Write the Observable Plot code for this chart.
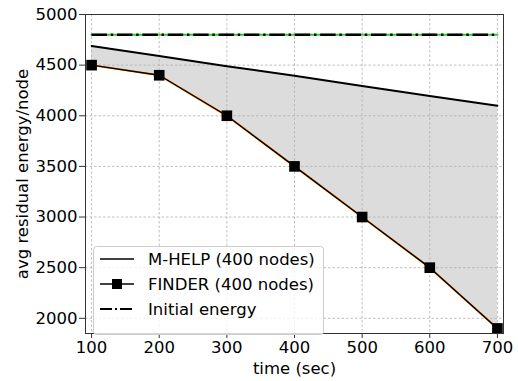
<!DOCTYPE html>
<html>
<head>
<meta charset="utf-8">
<script src="https://cdn.jsdelivr.net/npm/d3@7"></script>
<script src="https://cdn.jsdelivr.net/npm/@observablehq/plot@0.6"></script>
<style>
  html, body { margin: 0; padding: 0; background: #fff; }
  #wrap { position: relative; width: 518px; height: 381px; font-family: "DejaVu Sans", sans-serif; }
  #legend { position: absolute; left: 93px; top: 246px; }
</style>
</head>
<body>
<div id="wrap"></div>
<script>
const times = [100, 200, 300, 400, 500, 600, 700];
const mhelp = [4690, 4590, 4490, 4395, 4295, 4195, 4100];
const finder = [4500, 4400, 4000, 3500, 3000, 2500, 1900];
const initialEnergy = [4800, 4800, 4800, 4800, 4800, 4800, 4800];
const xTicks = [100, 200, 300, 400, 500, 600, 700];
const yTicks = [2000, 2500, 3000, 3500, 4000, 4500, 5000];
const seriesNames = ["M-HELP (400 nodes)", "FINDER (400 nodes)", "Initial energy"];
const xLabel = "time (sec)";
const yLabel = "avg residual energy/node";

const data = times.map((t, i) => ({t, mhelp: mhelp[i], finder: finder[i], init: initialEnergy[i]}));

const chart = Plot.plot({
  width: 518,
  height: 381,
  marginLeft: 85,
  marginRight: 15,
  marginTop: 14,
  marginBottom: 48,
  style: {fontFamily: "DejaVu Sans, sans-serif", fontSize: "16.5px", color: "#000", background: "#fff"},
  x: {domain: [91, 709]},
  y: {domain: [1850, 5000]},
  marks: [
    Plot.areaY(data, {x: "t", y1: "finder", y2: "mhelp", fill: "#dcdcdc"}),
    Plot.gridX(xTicks, {stroke: "#b0b0b0", strokeOpacity: 1, strokeWidth: 0.8, strokeDasharray: "2.5,2"}),
    Plot.gridY(yTicks, {stroke: "#b0b0b0", strokeOpacity: 1, strokeWidth: 0.8, strokeDasharray: "2.5,2"}),
    Plot.lineY(data, {x: "t", y: "mhelp", stroke: "#000", strokeWidth: 2}),
    Plot.lineY(data, {x: "t", y: "finder", stroke: "#ff7f0e", strokeWidth: 2}),
    Plot.lineY(data, {x: "t", y: "finder", stroke: "#000", strokeWidth: 1.4}),
    Plot.dot(data, {x: "t", y: "finder", symbol: "square", r: 6, fill: "#000", stroke: "none"}),
    Plot.lineY(data, {x: "t", y: "init", stroke: "#2ecc2e", strokeWidth: 2.2}),
    Plot.lineY(data, {x: "t", y: "init", stroke: "#000", strokeWidth: 2.6, strokeDasharray: "15.4,3.8,2.4,3.8", strokeLinecap: "butt"}),
    Plot.frame({stroke: "#333", strokeWidth: 1}),
    Plot.axisX(xTicks, {tickSize: 5, tickPadding: 3, tickFormat: d3.format("d"), label: null, stroke: "#333"}),
    Plot.axisY(yTicks, {tickSize: 6, tickPadding: 2, tickFormat: d3.format("d"), label: null, stroke: "#333"}),
    Plot.text([xLabel], {text: d => d, frameAnchor: "bottom", lineAnchor: "middle", textAnchor: "middle", dy: 35, fill: "#000"}),
    Plot.text([yLabel], {text: d => d, frameAnchor: "left", lineAnchor: "middle", textAnchor: "middle", dx: -63, rotate: -90, fill: "#000"})
  ]
});
document.getElementById("wrap").appendChild(chart);

// Legend
const ns = "http://www.w3.org/2000/svg";
const lg = document.createElementNS(ns, "svg");
lg.setAttribute("id", "legend");
lg.setAttribute("width", 231);
lg.setAttribute("height", 89);
lg.style.fontFamily = "DejaVu Sans, sans-serif";
lg.style.fontSize = "16.5px";
function el(tag, attrs) { const e = document.createElementNS(ns, tag); for (const k in attrs) e.setAttribute(k, attrs[k]); lg.appendChild(e); return e; }
el("rect", {x: 0.5, y: 0.5, width: 230, height: 88, rx: 3, fill: "#fff", "fill-opacity": 0.8, stroke: "#cccccc"});
const rows = [13, 38, 63];
el("line", {x1: 7, x2: 41, y1: rows[0], y2: rows[0], stroke: "#000", "stroke-width": 1.5});
el("line", {x1: 7, x2: 41, y1: rows[1], y2: rows[1], stroke: "#000", "stroke-width": 1.5});
el("rect", {x: 19, y: rows[1] - 5, width: 10, height: 10, fill: "#000"});
el("line", {x1: 7, x2: 41, y1: rows[2], y2: rows[2], stroke: "#000", "stroke-width": 2, "stroke-dasharray": "12,3,2,3"});
seriesNames.forEach((s, i) => {
  const t = el("text", {x: 55, y: rows[i], dy: "0.35em", fill: "#000"});
  t.textContent = s;
});
document.getElementById("wrap").appendChild(lg);
</script>
</body>
</html>
